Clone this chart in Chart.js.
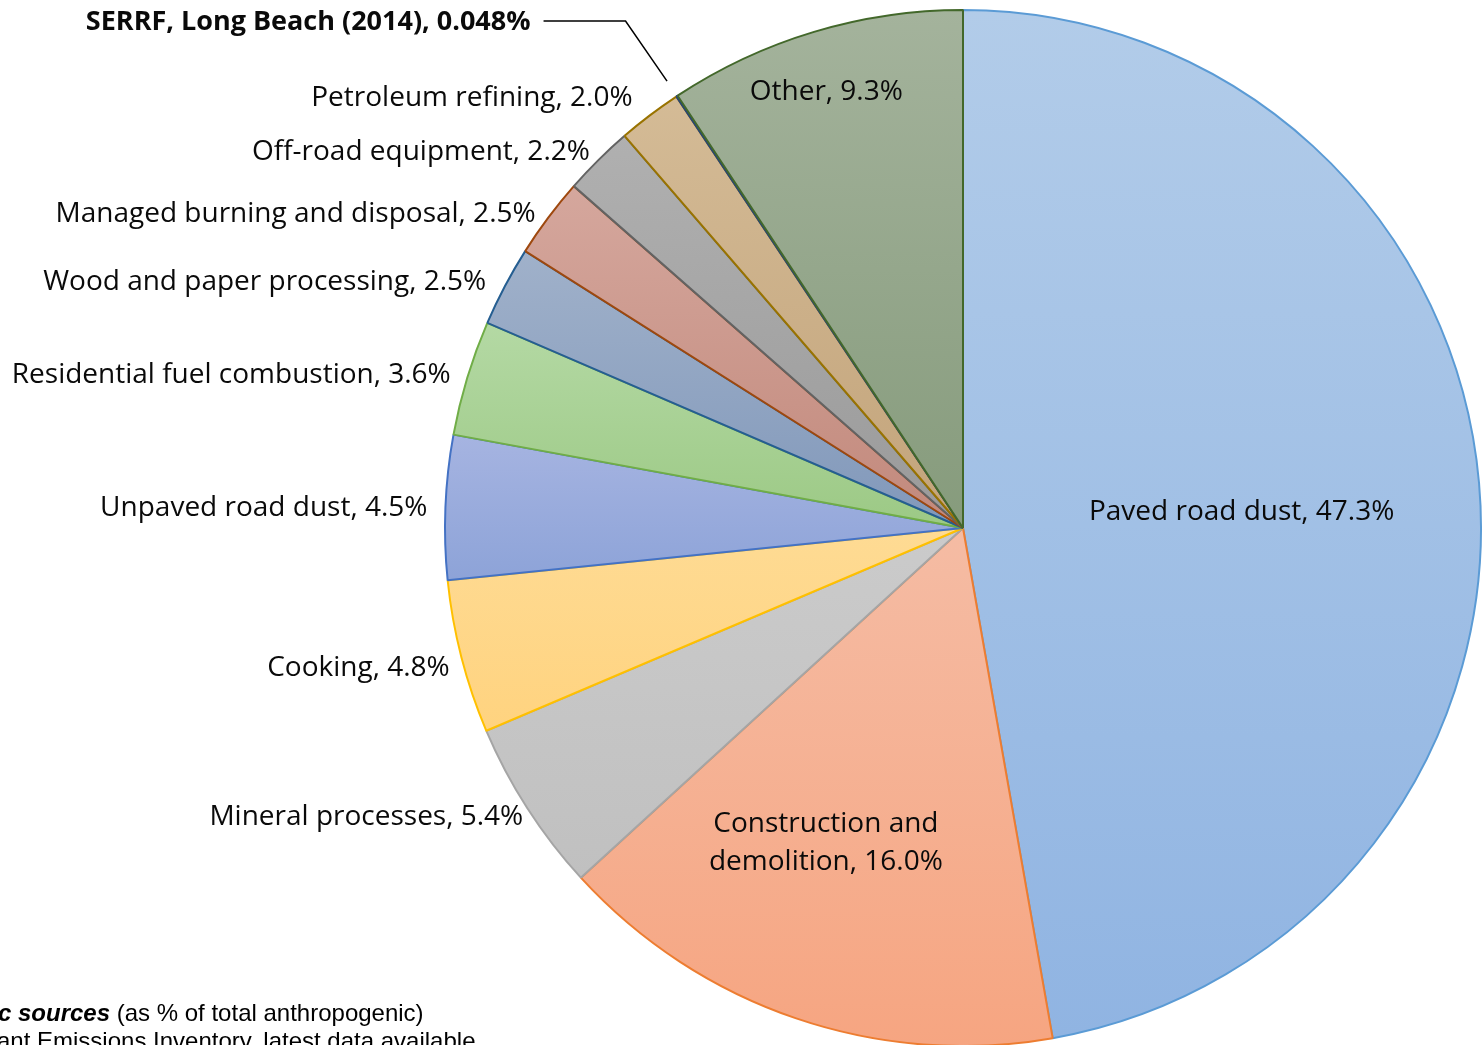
<!DOCTYPE html>
<html>
<head>
<meta charset="utf-8">
<title>PM2.5 anthropogenic sources</title>
<script src="https://cdn.jsdelivr.net/npm/chart.js@4/dist/chart.umd.min.js"></script>
<style>
  html, body { margin: 0; padding: 0; background: #fff; overflow: hidden; }
  #wrap { position: relative; width: 1484px; height: 1045px; overflow: hidden; }
  #pie { position: absolute; left: 0; top: 0; }
  .note { position: absolute; font-family: "Liberation Sans", Arial, sans-serif; font-size: 24px; color: #000; white-space: nowrap; line-height: 1; }
  .note b { font-style: italic; }
</style>
</head>
<body>
<div id="wrap">
  <canvas id="pie" width="1484" height="1045"></canvas>
  <div class="note" style="left:-2px; top:1001px;"><b>c sources</b> (as % of total anthropogenic)</div>
  <div class="note" style="left:-3px; top:1029px;">ant Emissions Inventory, latest data available</div>
</div>
<script>
// Source categories, clockwise from 12 o'clock
const categories = [
  'Paved road dust',
  'Construction and demolition',
  'Mineral processes',
  'Cooking',
  'Unpaved road dust',
  'Residential fuel combustion',
  'Wood and paper processing',
  'Managed burning and disposal',
  'Off-road equipment',
  'Petroleum refining',
  'SERRF, Long Beach (2014)',
  'Other'
];
// Share of total anthropogenic emissions, percent
const shares = [47.3, 16.0, 5.4, 4.8, 4.5, 3.6, 2.5, 2.5, 2.2, 2.0, 0.048, 9.3];
// Text printed after each category name
const shareLabels = ['47.3%', '16.0%', '5.4%', '4.8%', '4.5%', '3.6%', '2.5%', '2.5%', '2.2%', '2.0%', '0.048%', '9.3%'];

// Slice outline colours and top/bottom gradient stops
const edgeColors = ['#5b9bd5', '#ed7d31', '#a5a5a5', '#ffc000', '#4472c4', '#70ad47',
                    '#255e91', '#9e480e', '#636363', '#997300', '#264478', '#43682b'];
const fillTop    = ['#b2cce9', '#f5bca4', '#cbcbcb', '#fedb94', '#a6b4e1', '#b4d9a4',
                    '#a0b1ca', '#d5a79d', '#b0b0b0', '#d4bb96', '#8a9cc6', '#a4b39c'];
const fillBottom = ['#90b4e2', '#f6a581', '#c0c0c0', '#ffd37f', '#8da3d8', '#9cc985',
                    '#8198ba', '#c2897c', '#9a9a9a', '#c3a47b', '#7085b3', '#869b7c'];

const PIE_RADIUS = 518;

function sliceAngles(chart, i) {
  const data = chart.data.datasets[0].data;
  const total = data.reduce((a, b) => a + b, 0);
  let before = 0;
  for (let k = 0; k < i; k++) before += data[k];
  const a0 = -Math.PI / 2 + 2 * Math.PI * before / total;
  const a1 = a0 + 2 * Math.PI * data[i] / total;
  return [a0, a1];
}

// Vertical gradient spanning each slice's own bounding box
function sliceFill(context) {
  const chart = context.chart;
  const area = chart.chartArea;
  const i = context.dataIndex;
  if (!area) return fillTop[i];
  const cy = (area.top + area.bottom) / 2;
  const [a0, a1] = sliceAngles(chart, i);
  const ys = [cy, cy + PIE_RADIUS * Math.sin(a0), cy + PIE_RADIUS * Math.sin(a1)];
  [-Math.PI / 2, Math.PI / 2, 3 * Math.PI / 2].forEach(a => {
    if (a >= a0 && a <= a1) ys.push(cy + PIE_RADIUS * Math.sin(a));
  });
  const g = chart.ctx.createLinearGradient(0, Math.min(...ys), 0, Math.max(...ys));
  g.addColorStop(0, fillTop[i]);
  g.addColorStop(1, fillBottom[i]);
  return g;
}

// Label placement: outside labels sit right-aligned beyond the rim,
// inside labels are centred at a fraction of the radius
const labelPlacement = [
  { inside: true, dist: 0.54, dx: 0, dy: 8 },
  { inside: true, dist: 0.66, dx: -27, dy: -9, lines: ['Construction and', 'demolition, 16.0%'] },
  { dist: 12, dx: 6, dy: 2 },
  { dist: 12, dx: 0, dy: 8 },
  { dist: 12, dx: -6, dy: 1 },
  { dist: 12, dx: -5, dy: 1 },
  { dist: 12, dx: -8, dy: 1 },
  { dist: 12, dx: -3, dy: 4 },
  { dist: 12, dx: 0, dy: 0 },
  { dist: 12, dx: -10, dy: -8 },
  { leader: true },
  { inside: true, dist: 0.884, dx: -5, dy: 3 }
];

const LABEL_FONT = '28px "Open Sans", Lato, sans-serif';
const LABEL_FONT_BOLD = 'bold 27px "Open Sans", Lato, sans-serif';

const sliceLabels = {
  id: 'sliceLabels',
  afterDatasetsDraw(chart) {
    const ctx = chart.ctx;
    const arcs = chart.getDatasetMeta(0).data;
    ctx.save();
    ctx.fillStyle = '#0a0a0a';
    ctx.textBaseline = 'middle';
    arcs.forEach((arc, i) => {
      const p = labelPlacement[i];
      const mid = (arc.startAngle + arc.endAngle) / 2;
      const cx = arc.x, cy = arc.y, r = arc.outerRadius;
      const text = categories[i] + ', ' + shareLabels[i];
      if (p.leader) {
        // tiny slice: label up and left with an elbow leader line
        const tip = [cx + (r + 18) * Math.cos(mid), cy + (r + 18) * Math.sin(mid)];
        const elbowY = 21;
        const elbowX = tip[0] - (tip[1] - elbowY) * 0.69;
        ctx.strokeStyle = '#000';
        ctx.lineWidth = 1.5;
        ctx.beginPath();
        ctx.moveTo(tip[0], tip[1]);
        ctx.lineTo(elbowX, elbowY);
        ctx.lineTo(elbowX - 82, elbowY);
        ctx.stroke();
        ctx.font = LABEL_FONT_BOLD;
        ctx.textAlign = 'right';
        ctx.fillText(text, elbowX - 95, elbowY + 1);
        return;
      }
      ctx.font = LABEL_FONT;
      if (p.inside) {
        const d = p.dist * r;
        const x = cx + d * Math.cos(mid) + p.dx;
        const y = cy + d * Math.sin(mid) + p.dy;
        ctx.textAlign = 'center';
        const lines = p.lines || [text];
        const lh = 38;
        lines.forEach((ln, k) => ctx.fillText(ln, x, y + (k - (lines.length - 1) / 2) * lh));
      } else {
        const d = r + p.dist;
        const x = cx + d * Math.cos(mid) + p.dx;
        const y = cy + d * Math.sin(mid) + p.dy;
        ctx.textAlign = 'right';
        ctx.fillText(text, x, y);
      }
    });
    ctx.restore();
  }
};

new Chart(document.getElementById('pie'), {
  type: 'pie',
  data: {
    labels: categories,
    datasets: [{
      data: shares,
      backgroundColor: sliceFill,
      borderColor: edgeColors,
      borderWidth: 2,
      clip: false
    }]
  },
  options: {
    responsive: false,
    animation: false,
    radius: PIE_RADIUS,
    layout: { padding: { left: 442, top: 11, right: 0, bottom: 0 } },
    plugins: {
      legend: { display: false },
      tooltip: { enabled: false }
    }
  },
  plugins: [sliceLabels]
});
</script>
</body>
</html>
